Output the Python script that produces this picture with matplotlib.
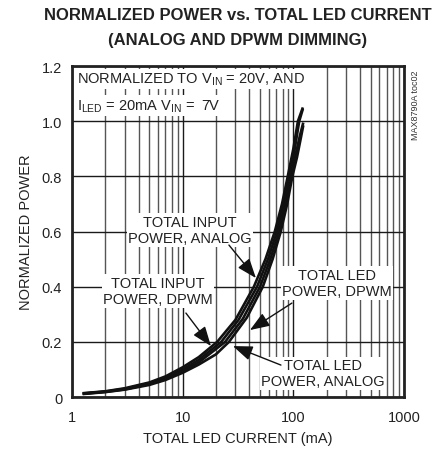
import numpy as np
import matplotlib.pyplot as plt
from matplotlib.ticker import FixedLocator, NullFormatter

plt.rcParams['font.family'] = ['Liberation Sans', 'DejaVu Sans']

# normalized power vs total LED current (mA)
in_dpwm_i = [1.25, 2, 3, 5, 7, 10, 14, 20.5, 30, 44, 56, 68, 79, 89, 100, 110, 122]
in_dpwm_p = [0.014, 0.021, 0.032, 0.053, 0.075, 0.108, 0.145, 0.2, 0.28, 0.4, 0.5, 0.6, 0.7, 0.8, 0.9, 1.0, 1.05]

in_analog_i = [1.25, 2, 3, 5, 7, 10, 14, 22.3, 32, 47, 59, 71, 82, 92, 103, 113, 122]
in_analog_p = [0.013, 0.02, 0.03, 0.05, 0.07, 0.1, 0.135, 0.2, 0.28, 0.4, 0.5, 0.6, 0.7, 0.8, 0.9, 1.0, 1.045]

led_dpwm_i = [1.25, 2, 3, 5, 7, 10, 14, 24.2, 35, 50, 62, 74, 85, 95, 105, 115, 123]
led_dpwm_p = [0.012, 0.019, 0.028, 0.047, 0.066, 0.094, 0.126, 0.2, 0.284, 0.4, 0.5, 0.6, 0.7, 0.8, 0.88, 0.95, 0.995]

led_analog_i = [1.25, 2, 3, 5, 7, 10, 14, 20, 26.2, 38, 53, 65, 77, 88, 98, 108, 117, 123]
led_analog_p = [0.011, 0.018, 0.027, 0.044, 0.062, 0.088, 0.118, 0.155, 0.2, 0.288, 0.4, 0.5, 0.6, 0.7, 0.8, 0.87, 0.94, 0.985]

xticks = [1, 10, 100, 1000]
xtick_labels = ['1', '10', '100', '1000']
yticks = [0, 0.2, 0.4, 0.6, 0.8, 1.0, 1.2]
ytick_labels = ['0', '0.2', '0.4', '0.6', '0.8', '1.0', '1.2']

fig = plt.figure(figsize=(4.44, 4.56), dpi=100)
ax = fig.add_axes([0.162, 0.127, 0.748, 0.726])

ax.set_xscale('log')
ax.set_xlim(1, 1000)
ax.set_ylim(0, 1.2)

ax.set_xticks(xticks)
ax.set_xticklabels(xtick_labels)
ax.xaxis.set_minor_locator(FixedLocator([d * m for d in (1, 10, 100) for m in range(2, 10)]))
ax.xaxis.set_minor_formatter(NullFormatter())
ax.set_yticks(yticks)
ax.set_yticklabels(ytick_labels)

ax.grid(True, which='major', color='#1a1a1a', lw=1.0)
ax.grid(True, which='minor', axis='x', color='#555555', lw=1.0)
ax.tick_params(which='both', length=0, labelsize=10.5, colors='#222222')
ax.tick_params(axis='x', pad=9)
ax.tick_params(axis='y', pad=7)

for s in ax.spines.values():
    s.set_linewidth(2.0)
    s.set_color('#222222')

for xs, ys in ((in_dpwm_i, in_dpwm_p), (in_analog_i, in_analog_p),
               (led_dpwm_i, led_dpwm_p), (led_analog_i, led_analog_p)):
    ax.plot(xs, ys, color='#111111', lw=1.9, solid_capstyle='butt', zorder=3)

ax.set_xlabel('TOTAL LED CURRENT (mA)', fontsize=10.5, color='#222222', labelpad=5)
ax.set_ylabel('NORMALIZED POWER', fontsize=10.5, color='#222222', labelpad=6)

fig.text(0.535, 0.966, 'NORMALIZED POWER vs. TOTAL LED CURRENT', ha='center', va='center',
         fontsize=12, fontweight='bold', color='#222222')
fig.text(0.535, 0.912, '(ANALOG AND DPWM DIMMING)', ha='center', va='center',
         fontsize=12, fontweight='bold', color='#222222')
fig.text(0.935, 0.845, 'MAX8790A toc02', rotation=90, ha='center', va='top',
         fontsize=6.5, color='#333333')

box = dict(facecolor='white', edgecolor='none', pad=1.5)
ax.text(1.12, 1.153, 'NORMALIZED TO V$_{\\mathregular{IN}}$ = 20V, AND', fontsize=10.5,
        va='center', ha='left', color='#222222', bbox=box, zorder=4)
ax.text(1.12, 1.058, 'I$_{\\mathregular{LED}}$ = 20mA V$_{\\mathregular{IN}}$ =  7V', fontsize=10.5,
        va='center', ha='left', color='#222222', bbox=box, zorder=4)


def px_to_data(px, py):
    return 10 ** ((px - 72) / 110.7), (398 - py) / 275.8


labels = [
    ('TOTAL INPUT\nPOWER, ANALOG', (190, 231), (229, 246), (256, 279)),
    ('TOTAL INPUT\nPOWER, DPWM', (158, 292), (186, 314), (211, 347)),
    ('TOTAL LED\nPOWER, DPWM', (337, 284), (292, 304), (250, 331)),
    ('TOTAL LED\nPOWER, ANALOG', (323, 374), (281, 366), (233, 347)),
]
for text, tpos, tail, head in labels:
    ax.text(*px_to_data(*tpos), text, ha='center', va='center', fontsize=10.5,
            color='#222222', linespacing=1.2,
            bbox=dict(facecolor='white', edgecolor='none', pad=1.0), zorder=4)
    ax.annotate('', xy=px_to_data(*head), xytext=px_to_data(*tail),
                arrowprops=dict(arrowstyle='-|>,head_length=1.2,head_width=0.45',
                                color='#111111', lw=1.0, shrinkA=0, shrinkB=0), zorder=5)

fig.savefig('out.png', dpi=100)
